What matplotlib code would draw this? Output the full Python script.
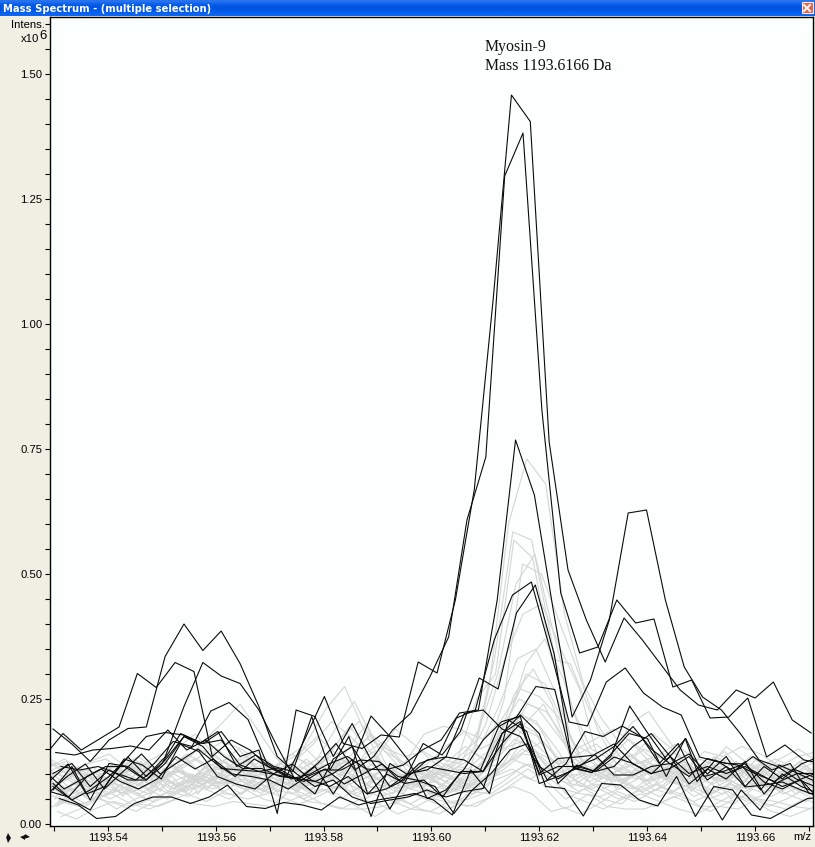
import numpy as np
import matplotlib
matplotlib.use('Agg')
import matplotlib.pyplot as plt
from matplotlib.lines import Line2D
from matplotlib.patches import Rectangle
from matplotlib.ticker import FixedLocator, FixedFormatter

# m/z sampling grid
mz_grid = [1193.5298, 1193.5333, 1193.5367, 1193.5402, 1193.5437, 1193.5471, 1193.5506, 1193.5541,
           1193.5576, 1193.5610, 1193.5645, 1193.5680, 1193.5714, 1193.5749, 1193.5784, 1193.5818,
           1193.5853, 1193.5888, 1193.5923, 1193.5957, 1193.5992, 1193.6027, 1193.6061, 1193.6096,
           1193.6131, 1193.6165, 1193.6200, 1193.6235, 1193.6270, 1193.6304, 1193.6339, 1193.6374,
           1193.6408, 1193.6443, 1193.6478, 1193.6512, 1193.6547, 1193.6582, 1193.6617, 1193.6651,
           1193.6686, 1193.6721]

# selected spectra (black), intensity in 10^3
sel_p = [190,160,125,168,191,194,335,400,347,386,321,235,135,101,75,88,54,41,48,54,
         68,54,65,71,181,218,181,81,118,105,134,121,101,111,135,88,115,74,78,84,68,54]
sel_top = [135,181,148,171,194,301,273,323,305,135,168,148,115,98,175,255,161,151,178,174,
           324,302,448,668,1048,1458,1405,764,508,408,324,412,368,318,268,238,228,268,252,284,208,182]
sel_second = [143,138,148,151,156,148,188,148,168,135,111,111,95,91,121,161,108,135,188,222,
              294,374,608,734,1296,1382,828,462,342,354,448,402,410,274,288,212,214,252,134,158,128,121]
sel_third = [62,95,120,70,105,140,100,125,150,120,95,130,110,90,100,120,135,110,108,118,
             148,168,222,228,448,768,658,428,214,288,408,622,628,448,314,254,228,181,128,115,90,75]
sel_l = [105,70,90,110,85,70,90,135,110,130,100,95,88,70,95,110,80,100,120,85,
         121,135,212,228,368,458,484,348,204,196,284,312,262,234,218,134,124,118,100,85,110,95]
sel_m = [85,120,60,75,130,118,90,160,145,95,80,70,100,120,88,75,95,60,70,88,
         161,138,185,292,270,422,478,340,114,103,138,181,171,95,171,71,8,68,28,84,101,101]
sel_n = [51,38,11,15,41,54,54,41,54,78,35,31,43,38,28,54,38,48,54,61,
         48,18,108,61,208,185,75,71,16,81,78,48,36,95,15,75,68,18,11,31,51,54]
sel_z = [68,115,48,121,115,88,128,175,161,185,135,148,21,228,215,135,201,128,75,101,
         108,134,221,228,190,175,115,90,115,130,155,195,150,120,140,100,135,75,115,90,120,135]
sel_k = [65,54,95,115,115,91,121,181,161,185,115,138,115,105,215,108,175,60,100,81,
         88,54,105,105,195,215,275,269,111,103,135,236,181,128,171,95,105,118,68,118,101,84]
sel_j = [101,121,75,108,88,88,121,175,155,111,108,105,98,91,60,130,155,95,30,95,
         128,134,128,105,181,205,101,131,134,138,98,98,115,121,95,131,121,120,84,70,90,105]
sel_s = [81,48,68,95,134,95,134,235,323,296,281,228,155,85,115,60,120,216,175,128,
         51,68,110,168,205,215,81,95,111,140,160,120,100,135,80,110,90,125,60,100,75,60]
sel_u = [115,108,115,101,88,121,165,155,226,243,209,121,98,85,108,108,128,125,95,88,
         75,21,68,101,148,161,88,121,185,175,196,175,121,161,85,128,105,135,108,121,61,61]
sel_v = [75,48,28,88,134,175,183,178,161,168,118,105,112,91,85,101,128,15,121,98,
         115,108,101,105,161,201,98,115,115,105,115,155,181,135,101,115,101,115,95,75,88,48]

selected = [sel_p, sel_top, sel_second, sel_third, sel_l, sel_m, sel_n, sel_z, sel_k, sel_j, sel_s, sel_u, sel_v]
selected_shift = [0, -0.00165, 0.0005, -0.00089, -0.00145, -0.00072, 0.00119, 0, -0.00061, 0, 0, 0.00148, 0]

# the other spectra (light grey)
others = [
    [60,75,95,80,60,45,70,90,120,105,130,95,85,70,95,130,110,90,70,85,100,75,110,280,600,730,680,420,280,210,160,120,140,140,105,90,110,100,80,95,70,85],
    [90,60,40,70,95,110,90,75,100,150,120,95,110,85,60,90,150,200,120,95,85,130,120,190,300,480,540,380,230,150,130,170,140,110,125,100,85,110,90,120,105,95],
    [40,55,80,110,90,70,115,130,95,80,105,125,90,105,130,190,245,170,130,90,75,70,95,130,250,520,500,400,300,190,120,140,180,150,95,115,130,85,75,100,120,90],
    [110,130,105,85,115,135,105,150,180,140,110,85,70,100,165,230,275,190,120,75,65,100,130,165,330,584,568,380,180,110,90,120,150,130,115,95,70,90,130,110,85,75],
    [25,10,30,45,35,50,65,55,75,90,70,50,40,55,70,60,35,15,40,60,45,30,55,75,130,200,240,170,95,70,50,65,80,60,45,60,80,55,35,50,70,45],
    [80,100,125,140,110,85,95,120,165,200,240,185,130,90,75,105,140,180,145,105,120,155,185,170,210,270,255,215,150,170,190,160,120,95,85,110,155,125,100,85,110,130],
    [130,105,80,60,85,110,130,105,80,100,125,145,115,85,105,145,195,150,100,125,180,195,190,150,170,220,205,135,95,110,135,200,225,170,120,95,90,115,100,130,150,125],
    [15,30,50,40,25,45,60,80,65,50,70,90,75,60,40,30,50,40,20,35,55,70,60,85,100,120,110,60,45,30,50,60,45,30,20,40,60,45,25,15,30,50],
    [100,85,65,90,120,100,75,90,115,130,105,120,95,110,135,120,90,130,190,160,125,95,85,110,200,320,370,290,170,100,85,105,135,160,130,90,105,135,110,85,100,115],
    [70,90,110,95,75,60,85,105,90,115,95,75,60,85,110,95,65,50,75,100,70,55,75,100,160,260,310,240,130,85,100,80,60,75,100,120,95,70,90,115,95,70],
    [50,70,45,65,85,70,50,70,95,80,60,85,105,130,115,85,60,75,55,40,60,85,70,95,115,150,130,90,65,80,60,45,65,90,70,50,65,45,60,85,65,50],
    [120,95,110,85,70,95,125,100,85,120,150,110,90,125,160,205,175,135,105,90,110,85,100,135,165,195,175,110,130,95,115,140,105,85,75,120,145,105,85,95,125,100],
    [35,55,75,60,40,30,45,60,45,65,90,70,55,40,55,75,95,70,45,30,25,45,35,50,70,95,80,35,20,40,65,50,35,55,40,25,45,60,40,30,50,35],
    [90,115,80,105,130,95,120,90,110,95,125,100,130,155,120,170,205,155,130,110,95,115,145,120,175,240,225,170,120,100,145,125,95,115,90,135,115,95,125,105,85,120],
    [65,45,85,70,95,115,80,110,130,105,85,105,80,95,130,100,125,105,85,70,90,110,90,75,105,130,115,95,110,130,105,85,110,75,60,85,105,125,95,70,85,105],
    [105,75,55,80,60,85,100,70,95,75,115,85,70,60,85,115,80,60,95,120,100,80,60,95,145,190,160,125,90,70,90,105,85,100,120,75,60,80,110,90,70,60],
    [75,95,70,50,70,50,95,115,140,165,150,125,100,75,90,65,95,120,100,70,80,125,155,130,150,165,140,120,140,160,125,100,70,60,95,125,100,85,65,75,95,115],
    [45,65,90,115,85,105,75,60,105,125,90,65,85,115,95,120,85,100,120,90,60,45,50,65,90,120,100,70,60,55,70,90,110,85,55,70,90,115,80,60,45,70],
    [85,65,100,75,100,125,95,80,70,95,115,135,105,120,90,110,70,140,165,125,100,90,130,250,300,568,532,330,320,230,165,120,100,120,85,105,120,95,115,130,110,85],
    [55,85,60,100,75,60,110,140,120,90,85,60,120,140,175,140,110,85,60,110,130,105,125,200,330,420,440,350,270,130,110,90,115,95,110,60,80,70,85,100,130,110],
    [95,110,85,70,60,75,100,105,90,80,95,105,90,70,80,110,130,100,75,90,110,95,80,120,190,250,230,180,130,100,85,95,110,90,100,115,90,75,85,105,95,80],
    [80,60,75,95,110,90,70,85,105,115,100,85,75,95,115,100,85,70,90,110,85,70,95,140,210,300,280,200,120,90,110,125,100,80,95,80,105,120,95,80,105,115],
    [110,90,70,55,70,95,115,95,75,90,110,95,110,90,70,85,110,125,105,85,75,90,115,105,130,170,150,100,85,105,120,105,85,105,125,100,85,100,120,100,80,95],
    [60,80,100,115,95,80,60,75,100,85,70,100,120,105,85,70,85,100,115,100,90,65,80,90,120,145,165,125,105,85,75,100,120,100,80,105,125,95,75,90,110,100],
    [100,120,95,110,90,70,85,110,85,70,85,70,95,115,100,120,100,115,85,65,80,105,90,70,95,110,90,120,95,75,95,80,65,85,110,130,115,90,105,120,90,75],
    [70,50,65,85,105,120,90,65,80,100,75,95,65,80,60,75,65,85,70,55,70,60,75,105,150,220,195,145,80,65,80,70,95,120,75,60,75,65,85,60,75,90],
    [45,35,55,30,50,65,85,100,80,60,50,60,85,50,70,50,75,55,65,85,50,40,65,60,85,110,85,50,70,50,40,75,55,70,85,50,40,70,55,75,55,40],
    [125,100,120,130,105,120,140,125,150,130,110,130,115,140,110,135,150,170,150,135,145,120,105,155,235,330,350,265,160,140,100,115,130,135,105,145,135,155,140,115,135,145],
    [85,105,90,120,65,100,60,100,70,110,140,100,50,105,75,125,55,90,105,75,105,90,70,115,120,175,120,85,75,120,95,70,90,105,70,95,50,100,75,95,80,95],
    [30,45,40,55,70,40,35,50,40,35,45,40,35,65,45,40,30,30,35,50,30,20,40,35,60,75,60,25,35,60,35,30,30,45,60,35,35,30,50,45,35,30],
    [75,70,115,80,120,65,105,65,115,60,60,115,105,65,125,90,115,145,85,105,95,120,75,85,110,140,135,95,100,120,70,110,75,125,65,115,95,105,70,110,115,85],
    [115,125,60,95,55,125,65,120,60,110,100,65,80,100,65,100,120,80,115,60,115,75,110,95,145,205,185,140,75,100,115,95,125,90,115,65,100,75,115,90,60,100],
]
others_shift = [0.0012, -0.0008, 0.0004, -0.0014, 0.0008, 0.0, -0.0005, 0.0015, 0.0010, -0.0011,
                0.0003, -0.0003, 0.0006, 0.0013, -0.0016, -0.0007, 0.0002, 0.0009, -0.0012, 0.0005,
                -0.0002, 0.0011, -0.0010, 0.0007, -0.0015, 0.0001, 0.0014, -0.0006, 0.0009, -0.0013, 0.0004, -0.0009]

y_major = [0.00, 0.25, 0.50, 0.75, 1.00, 1.25, 1.50]
y_labels = ['0.00', '0.25', '0.50', '0.75', '1.00', '1.25', '1.50']
x_major = [1193.54, 1193.56, 1193.58, 1193.60, 1193.62, 1193.64, 1193.66]
x_labels = ['1193.54', '1193.56', '1193.58', '1193.60', '1193.62', '1193.64', '1193.66']

W, H = 815, 847
beige = '#f1efe4'
fig = plt.figure(figsize=(W / 100, H / 100), dpi=100, facecolor=beige)
plt.rcParams['font.family'] = ['Liberation Sans', 'DejaVu Sans']

ax = fig.add_axes([49.5 / W, 1 - 826 / H, (813 - 49.5) / W, (826 - 17) / H], facecolor='#fbfffe')
for vals, shift in zip(others, others_shift):
    ax.plot(np.array(mz_grid) + shift, np.array(vals) / 1000, color='#d4d6d6', lw=0.8)
for vals, shift in zip(selected, selected_shift):
    ax.plot(np.array(mz_grid) + shift, np.array(vals) / 1000, color='#0a0a0a', lw=0.8)

ax.set_xlim(1193.52915, 1193.6708)
ax.set_ylim(-0.004, 1.614)
for side in ax.spines:
    ax.spines[side].set_linewidth(1)

ax.xaxis.set_major_locator(FixedLocator(x_major))
ax.xaxis.set_major_formatter(FixedFormatter(x_labels))
ax.set_xticks([1193.53, 1193.55, 1193.57, 1193.59, 1193.61, 1193.63, 1193.65, 1193.67], minor=True)
ax.yaxis.set_major_locator(FixedLocator(y_major))
ax.yaxis.set_major_formatter(FixedFormatter(y_labels))
ax.set_yticks([0.05, 0.10, 0.15, 0.20, 0.30, 0.35, 0.40, 0.45, 0.55, 0.60, 0.65, 0.70, 0.80, 0.85, 0.90,
               0.95, 1.05, 1.10, 1.15, 1.20, 1.30, 1.35, 1.40, 1.45, 1.55, 1.60], minor=True)
ax.tick_params(axis='both', which='both', length=3.5, width=0.8, pad=1.8, labelsize=8.1)

# annotation
ax.text(1193.6099, 1.554, 'Myosin-9', family='Liberation Serif', fontsize=11.4, color='#111111', va='center')
ax.text(1193.6099, 1.516, 'Mass 1193.6166 Da', family='Liberation Serif', fontsize=11.4, color='#111111', va='center')

# axis captions
fig.text(44.5 / W, 1 - 25 / H, 'Intens.', ha='right', va='center', fontsize=8.1)
fig.text(39 / W, 1 - 39.5 / H, 'x10', ha='right', va='center', fontsize=8.1)
fig.text(39 / W, 1 - 36 / H, '6', ha='left', va='center', fontsize=9.5)
fig.text(811 / W, 1 - 837 / H, 'm/z', ha='right', va='center', fontsize=8.1)

# title bar
bar = fig.add_axes([0, 1 - 16 / H, 1, 16 / H])
grad = np.array([[0.16, 0.45, 0.93], [0.04, 0.38, 0.92], [0.0, 0.33, 0.89], [0.0, 0.33, 0.89],
                 [0.02, 0.37, 0.93], [0.05, 0.40, 0.95]])
bar.imshow(grad[:, None, :], aspect='auto', interpolation='bilinear', extent=[0, W, 16, 0])
bar.set_xlim(0, W)
bar.set_ylim(16, 0)
bar.axis('off')
bar.text(3, 8.5, 'Mass Spectrum - (multiple selection)', color='white', fontweight='bold', fontsize=8.0,
         family='DejaVu Sans', stretch='condensed', va='center', ha='left')
bar.add_patch(Rectangle((801.5, 2.5), 11, 11, facecolor='#e2634a', edgecolor='#f5e6e0', lw=0.8))
bar.plot([804, 810], [5, 11], color='white', lw=1.4)
bar.plot([804, 810], [11, 5], color='white', lw=1.4)

# little scroll arrows at the bottom left
for x, y, m in [(8, 834.5, '^'), (8, 839.5, 'v'), (21.5, 837, '<'), (26.5, 837, '>')]:
    fig.add_artist(Line2D([x / W], [1 - y / H], marker=m, ms=3.6, mew=0, color='#111111', transform=fig.transFigure))

fig.savefig('out.png', dpi=100, facecolor=beige)
